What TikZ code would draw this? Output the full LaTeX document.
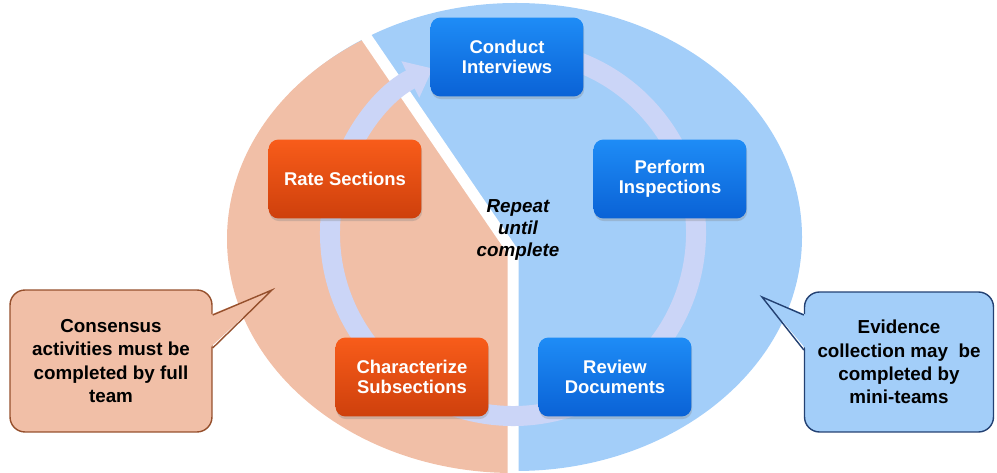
\documentclass[tikz,border=0pt]{standalone}
\usepackage{fontspec}
\setmainfont{Liberation Sans}
\usetikzlibrary{arrows.meta,calc,positioning,shadows}

\definecolor{peach}{RGB}{241,191,167}
\definecolor{skyblue}{RGB}{163,206,249}
\definecolor{ringblue}{RGB}{203,213,247}
\definecolor{orangetop}{RGB}{248,92,26}
\definecolor{orangebot}{RGB}{206,64,12}
\definecolor{bluetop}{RGB}{30,140,246}
\definecolor{bluebot}{RGB}{10,98,214}
\definecolor{brownline}{RGB}{150,80,45}
\definecolor{navyline}{RGB}{35,65,115}

\begin{document}
\begin{tikzpicture}[
  x=0.02cm, y=0.02cm,
  box/.style = {rounded corners=0.2cm, minimum width=3.06cm, minimum height=1.58cm, align=center, text=white,
    font=\bfseries\fontsize{10.5}{11.5}\selectfont,
    drop shadow={shadow xshift=0.4pt, shadow yshift=-1.5pt, opacity=0.3}},
  obox/.style = {box, top color=orangetop, bottom color=orangebot},
  bbox/.style = {box, top color=bluetop, bottom color=bluebot},
  note/.style = {rounded corners=0.3cm, line width=0.8pt, align=center, font=\bfseries\fontsize{10.7}{13.2}\selectfont},
  ring/.style = {line width=0.4cm, draw=ringblue, -{Triangle[width=0.78cm,length=0.5cm]}},
  gap/.style = {white, line width=0.22cm}
  ]
	\useasboundingbox (0,0) rectangle (997,473);

	\coordinate (pie) at (516,236);
	\coordinate (cut) at (513,221);
	\coordinate (ringc) at (513,240);

	\fill[skyblue] (pie) ellipse [x radius=286, y radius=234];
	\begin{scope}
		\clip (cut) -- ($(cut)+(-226,331)$) -- (100,564) -- (100,-20) -- (513,-20) -- cycle;
		\fill[peach] ($(pie)+(-3,-2)$) ellipse [x radius=286, y radius=234];
	\end{scope}
	\draw[gap] ($(cut)+(-226,331)$) -- (cut) -- (513,-20);

	\draw[ring] ($(ringc)+(80:183)$) arc[start angle=80, end angle=-244, radius=183];

	\node[bbox] (conduct) at (507,416) {Conduct\\Interviews};
	\node[bbox] (perform) at (670,294) {Perform\\Inspections};
	\node[bbox] (review) at (615,96) {Review\\Documents};
	\node[obox] (characterize) at (412,96) {Characterize\\Subsections};
	\node[obox] (rate) at (345,294) {Rate Sections};

	\node[align=center, font=\bfseries\itshape\fontsize{10.7}{12.7}\selectfont] (repeat) at (518,243) {Repeat\\until\\complete};

	\node[note, fill=peach, draw=brownline, minimum width=4.04cm, minimum height=2.84cm] (consensus) at (111,112)
		{Consensus\\activities must be\\completed by full\\team};
	\coordinate (tipL) at (272,183);
	\fill[peach] ($(consensus.east)+(-3,46)$) -- (tipL) -- ($(consensus.east)+(-3,13)$) -- cycle;
	\draw[brownline, line width=0.8pt] ($(consensus.east)+(0,46)$) -- (tipL) -- ($(consensus.east)+(0,13)$);

	\node[note, fill=skyblue, draw=navyline, minimum width=3.78cm, minimum height=2.8cm] (evidence) at (899,111)
		{Evidence\\collection may~ be\\completed by\\mini-teams};
	\coordinate (tipR) at (762,176);
	\fill[skyblue] ($(evidence.west)+(3,47)$) -- (tipR) -- ($(evidence.west)+(3,12)$) -- cycle;
	\draw[navyline, line width=0.8pt] ($(evidence.west)+(0,47)$) -- (tipR) -- ($(evidence.west)+(0,12)$);

\end{tikzpicture}
\end{document}
